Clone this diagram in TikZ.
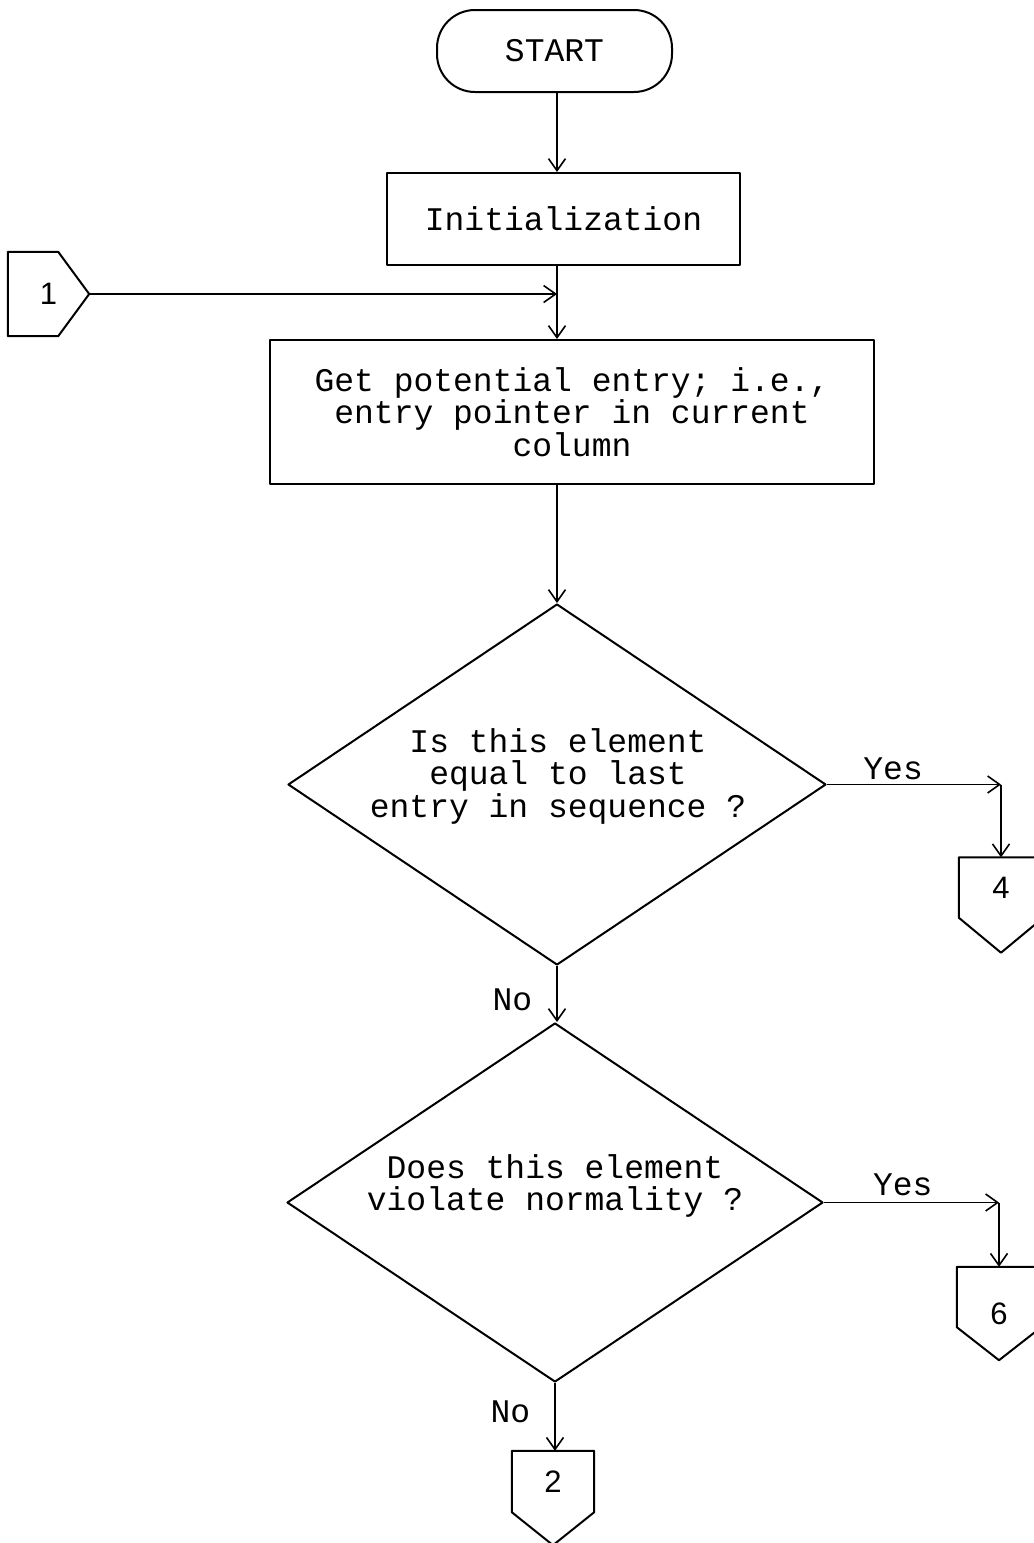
\documentclass[tikz,border=0pt]{standalone}
\usepackage{fontspec}
\setmonofont{Liberation Mono}
\newfontfamily\numfont{Liberation Sans}
\usetikzlibrary{arrows.meta,shapes.geometric,calc}
\begin{document}
\begin{tikzpicture}[x=1pt,y=-1pt,
  every node/.style={inner sep=0pt},
  line/.style={line width=2pt, line join=round},
  arr/.style={line width=1.6pt,-{Straight Barb[length=12pt,width=17pt,line width=1.6pt]}},
  txt/.style={font=\fontsize{33}{32.5}\selectfont\ttfamily, align=center},
  boxnode/.style={draw, line, txt},
  decision/.style={draw, line, diamond},
  conn/.style={minimum width=84pt, minimum height=60pt, font=\fontsize{31}{31}\selectfont\numfont},
  numtxt/.style={font=\fontsize{31}{31}\selectfont\numfont}
]
\useasboundingbox (0,0) rectangle (1034,1543);

% main boxes
\node[boxnode, rounded corners=38pt, minimum width=235pt, minimum height=82pt] (start) at (554.5,51) {START};
\node[boxnode, minimum width=353pt, minimum height=92pt] (init) at (563.5,219) {Initialization};
\node[boxnode, minimum width=604pt, minimum height=144pt] (get) at (572,412)
  {Get potential entry; i.e.,\\entry pointer in current\\column};

\node[decision, minimum width=538pt, minimum height=361pt] (d1) at (557,784.5) {};
\node[txt] (d1t) at (558,776) {Is this element\\equal to last\\entry in sequence ?};

\node[decision, minimum width=536pt, minimum height=359pt] (d2) at (555,1202.5) {};
\node[txt] (d2t) at (555,1186) {Does this element\\violate normality ?};

% connectors
\node[minimum width=81pt, minimum height=84pt, numtxt] (c1) at (48.5,294) {1};
\draw[line] (c1.north west) -- ([xshift=-31pt]c1.north east) -- (c1.east)
  -- ([xshift=-31pt]c1.south east) -- (c1.south west) -- cycle;

\node[conn] (c4) at (1001,887.5) {4};
\draw[line] (c4.south west) -- (c4.north west) -- (c4.north east) -- (c4.south east)
  -- ([yshift=-35pt]c4.south) -- cycle;

\node[conn] (c6) at (999,1297) {};
\node[numtxt] (c6t) at (999,1314) {6};
\draw[line] (c6.south west) -- (c6.north west) -- (c6.north east) -- (c6.south east)
  -- ([yshift=-33pt]c6.south) -- cycle;

\node[conn, minimum width=82pt, minimum height=61pt] (c2) at (553,1481.5) {2};
\draw[line] (c2.south west) -- (c2.north west) -- (c2.north east) -- (c2.south east)
  -- ([yshift=-33pt]c2.south) -- cycle;

% flow lines
\draw[arr] (start.south -| d1.north) -- (init.north -| d1.north);
\draw[arr] (init.south -| d1.north) -- (get.north -| d1.north);
\draw[arr] (c1.east) -- (c1.east -| d1.north);
\draw[arr] (get.south -| d1.north) -- (d1.north);

\draw[arr] (d1.east) -- node[txt, above=4pt, pos=0.38] {Yes} (d1.east -| c4.north);
\draw[arr] (d1.east -| c4.north) -- (c4.north);

\draw[arr] (d1.south) -- node[txt, left=24pt, pos=0.6] {No} (d1.south |- d2.north);

\draw[arr] (d2.east) -- node[txt, above=6pt, pos=0.45] {Yes} (d2.east -| c6.north);
\draw[arr] (d2.east -| c6.north) -- (c6.north);

\draw[arr] (d2.south) -- node[txt, left=24pt, pos=0.43] {No} (d2.south |- c2.north);
\end{tikzpicture}
\end{document}
